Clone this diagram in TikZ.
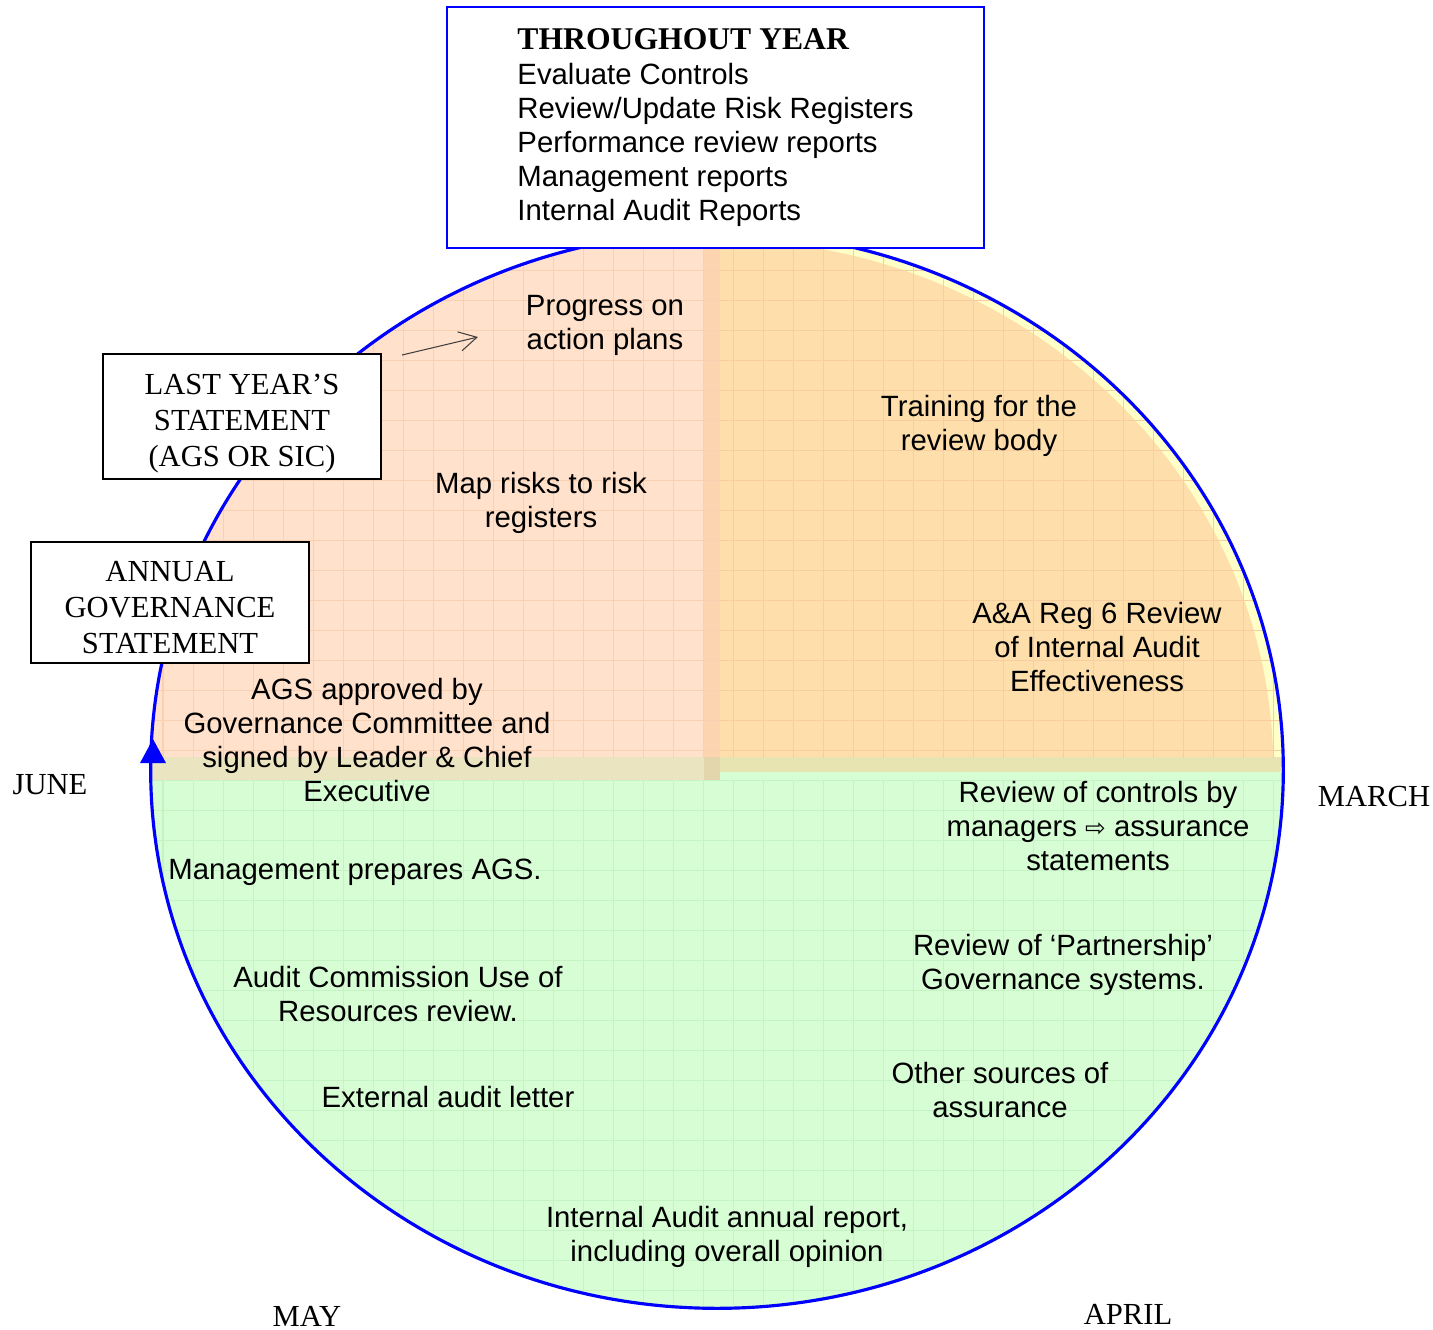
\documentclass[tikz,border=0pt]{standalone}
\usepackage{fontspec}
\setmainfont{Liberation Serif}
\newfontfamily\arialf{Liberation Sans}
\newfontfamily\symf{DejaVu Sans}
\usetikzlibrary{arrows.meta}
\definecolor{peach}{RGB}{255,225,204}
\definecolor{peachgrid}{RGB}{250,208,178}
\definecolor{orangef}{RGB}{254,223,172}
\definecolor{orangegrid}{RGB}{248,205,160}
\definecolor{rimyellow}{RGB}{255,255,200}
\definecolor{greenf}{RGB}{214,253,212}
\definecolor{greengrid}{RGB}{198,243,196}
\definecolor{bandv}{RGB}{252,212,176}
\definecolor{bandl}{RGB}{234,228,192}
\definecolor{bandr}{RGB}{232,228,178}
\definecolor{bandc}{RGB}{228,214,172}
\tikzset{
  sanstxt/.style={font=\arialf\fontsize{8.34}{9.67}\selectfont, align=center, inner sep=0pt},
  serifbox/.style={draw=black, line width=0.6pt, fill=white, align=center, inner sep=0pt,
    minimum width=2.78cm, font=\rmfamily\fontsize{8.7}{10.24}\selectfont},
  month/.style={font=\rmfamily\fontsize{8.7}{10.24}\selectfont, inner sep=0pt},
  gridline/.style={line width=0.35pt}
}
\begin{document}
\begin{tikzpicture}[x=0.01cm,y=-0.01cm]
\useasboundingbox (0,0) rectangle (1433,1329);
% quadrant fills
\begin{scope}
  \clip (717,770) ellipse [x radius=5.66cm, y radius=5.38cm];
  \fill[greenf] (0,757) rectangle (1433,1329);
  \fill[peach] (0,0) rectangle (704,757);
  \fill[rimyellow] (720,0) rectangle (1433,757);
  \fill[bandv] (704,0) rectangle (720,757);
  \fill[bandl] (0,757) rectangle (704,780);
  \fill[bandc] (704,757) rectangle (720,780);
  \fill[bandr] (720,757) rectangle (1290,772);
  \begin{scope}
    \clip (717,770) ellipse [x radius=5.56cm, y radius=5.30cm];
    \fill[orangef] (720,0) rectangle (1433,757);
  \end{scope}
  \begin{scope}[xshift=0.13cm]
    \begin{scope}
      \clip (-13,0) rectangle (707,757);
      \draw[peachgrid, gridline, step=0.3cm] (-13,0) grid (707,780);
    \end{scope}
    \begin{scope}
      \clip (707,0) rectangle (1433,757);
      \draw[orangegrid, gridline, step=0.3cm] (690,0) grid (1433,780);
    \end{scope}
    \begin{scope}
      \clip (-13,780) rectangle (1433,1329);
      \draw[greengrid, gridline, step=0.3cm] (-13,757) grid (1433,1329);
    \end{scope}
  \end{scope}
\end{scope}
% year cycle
\draw[blue, line width=0.9pt] (717,770) ellipse [x radius=5.66cm, y radius=5.38cm];
\fill[blue] (153,739) -- (166,763) -- (140,763) -- cycle;
% boxes
\node[draw=blue, line width=0.7pt, fill=white, minimum width=5.37cm, minimum height=2.41cm,
      inner sep=0pt, align=left, font=\arialf\fontsize{8.34}{9.67}\selectfont] (thr) at (715.5,127.5)
  {{\rmfamily\bfseries\fontsize{9}{10}\selectfont THROUGHOUT YEAR}\\[0.2pt]
   Evaluate Controls\\
   Review/Update Risk Registers\\
   Performance review reports\\
   Management reports\\
   Internal Audit Reports};
\node[serifbox, minimum height=1.25cm] (last) at (242,416.5) {\rule{0pt}{9.7pt}LAST YEAR’S\\STATEMENT\\(AGS OR SIC)};
\node[serifbox, minimum height=1.21cm] (ags) at (170,602.5) {\rule{0pt}{8.6pt}ANNUAL\\GOVERNANCE\\STATEMENT};
% small arrow
\coordinate (pa) at (402,355);
\coordinate (pb) at (478,337);
\draw[black!75, line width=0.3pt, -{Straight Barb[length=5pt,width=5.5pt,line width=0.3pt]}] (pa) -- (pb);
% texts
\node[sanstxt] (progress) at (605,325) {Progress on\\action plans};
\node[sanstxt] (training) at (979,426) {Training for the\\review body};
\node[sanstxt] (maprisks) at (541,503) {Map risks to risk\\registers};
\node[sanstxt] (aareg) at (1097,647) {A\&A Reg 6 Review\\of Internal Audit\\Effectiveness};
\node[sanstxt] (agsapp) at (367,740) {AGS approved by\\Governance Committee and\\signed by Leader \& Chief\\Executive};
\node[sanstxt] (review) at (1098,826) {Review of controls by\\managers {\symf\fontsize{7}{9}\selectfont ⇨} assurance\\statements};
\node[sanstxt] (mgmt) at (355,872) {Management prepares AGS.};
\node[sanstxt] (partner) at (1063,965) {Review of ‘Partnership’\\Governance systems.};
\node[sanstxt] (audcomm) at (398,994) {Audit Commission Use of\\Resources review.};
\node[sanstxt] (other) at (1000,1090) {Other sources of\\assurance};
\node[sanstxt] (external) at (448,1097) {External audit letter};
\node[sanstxt] (intaudit) at (727,1237) {Internal Audit annual report,\\including overall opinion};
% months
\node[month] (june) at (50,785) {JUNE};
\node[month] (march) at (1374,796) {MARCH};
\node[month] (may) at (307,1316) {MAY};
\node[month] (april) at (1128,1314) {APRIL};
\end{tikzpicture}
\end{document}
